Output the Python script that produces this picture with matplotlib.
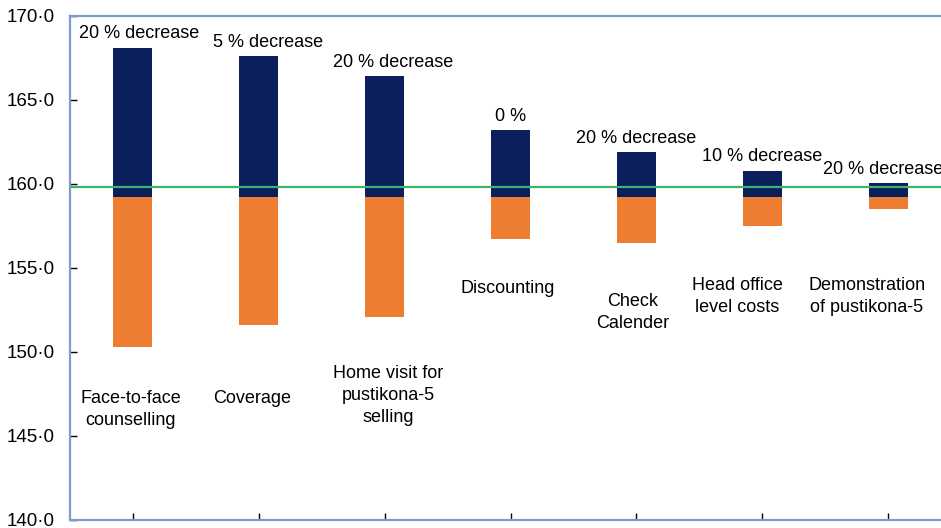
import matplotlib.pyplot as plt
import matplotlib.ticker as ticker

plt.rcParams["font.family"] = ["Liberation Sans", "DejaVu Sans"]

# Veriler (okunan değerler)
kategoriler = ["Face-to-face\ncounselling", "Coverage", "Home visit for\npustikona-5\nselling",
               "Discounting", "Check\nCalender", "Head office\nlevel costs",
               "Demonstration\nof pustikona-5"]
ust_deger = [168.1, 167.6, 166.4, 163.2, 161.9, 160.8, 160.05]
alt_deger = [150.3, 151.6, 152.1, 156.7, 156.5, 157.5, 158.5]
taban = 159.25
referans = 159.8
ust_etiket = ["20 % decrease", "5 % decrease", "20 % decrease", "0 %",
              "20 % decrease", "10 % decrease", "20 % decrease"]

# Kategori etiketlerinin dikey yerleri (yerleşim)
etiket_y = [146.6, 147.25, 147.4, 153.8, 152.35, 153.3, 153.3]
etiket_dx = [-0.02, -0.05, 0.03, -0.02, -0.03, -0.2, -0.17]
ust_dx = [0.05, 0.07, 0.07, 0.0, 0.0, 0.0, -0.04]

NAVY = "#0b1f5c"
ORANGE = "#ed7d31"
GREEN = "#3cb46e"
SPINE = "#7f9ccf"

fig = plt.figure(figsize=(9.41, 5.28), dpi=100)
ax = fig.add_axes([70 / 941, 8 / 528, 881 / 941, 504 / 528])

x = list(range(len(kategoriler)))
ax.bar(x, [u - taban for u in ust_deger], bottom=taban, width=0.31, color=NAVY, zorder=2)
ax.bar(x, [a - taban for a in alt_deger], bottom=taban, width=0.31, color=ORANGE, zorder=2)
ax.axhline(referans, color=GREEN, linewidth=1.6, zorder=3)

for i in x:
    ax.annotate(ust_etiket[i], xy=(i + ust_dx[i], ust_deger[i]), xytext=(0, 4),
                textcoords="offset points", ha="center", va="bottom", fontsize=13)
    ax.text(i + etiket_dx[i], etiket_y[i], kategoriler[i], ha="center", va="center",
            fontsize=13, linespacing=1.4)

ax.set_xlim(-0.5, 6.5)
ax.set_ylim(140, 170)
ax.set_xticks(x)
ax.set_xticklabels([])
ax.set_yticks([140, 145, 150, 155, 160, 165, 170])
ax.yaxis.set_major_formatter(ticker.FuncFormatter(lambda v, _: f"{v:.1f}".replace(".", "·")))
ax.tick_params(axis="y", direction="in", length=5, width=1, pad=11, labelsize=13.5, colors="black")
ax.tick_params(axis="x", direction="in", length=5, width=1)

for s in ax.spines.values():
    s.set_color(SPINE)
    s.set_linewidth(1.6)

fig.savefig("out.png", dpi=100)
